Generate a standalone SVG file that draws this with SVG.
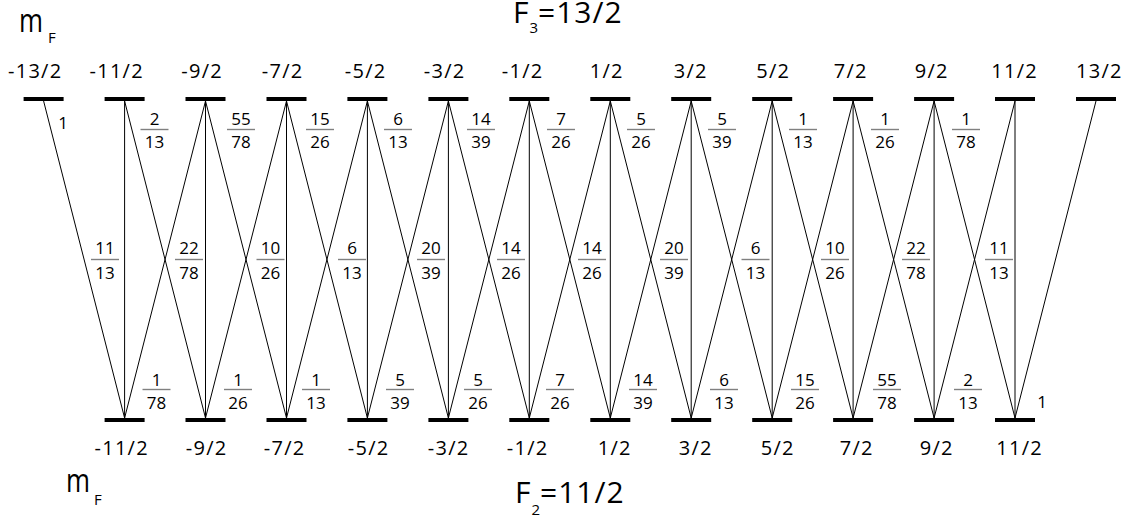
<svg xmlns="http://www.w3.org/2000/svg" width="1128" height="520" viewBox="0 0 1128 520">
<style>
  text { font-family: "Open Sans", "Liberation Sans", sans-serif; fill: #000; }
  .lvl { font-size: 20px; letter-spacing: 1.3px; text-anchor: middle; }
  .bar { fill: #000; }
  .fr { font-size: 17px; text-anchor: middle; }
  .one { font-size: 17px; text-anchor: middle; }
  .fl { stroke: #808080; stroke-width: 1.4; }
  .big { font-size: 30px; letter-spacing: 1px; }
  .mf { font-size: 32px; }
  .sub { font-size: 15px; letter-spacing: 0; }
  #connectors line { stroke: #000; stroke-width: 1; }
</style>
<rect width="1128" height="520" fill="#fff"/>

<!-- titles -->
<g id="mF-top"><text class="mf" x="19" y="32" textLength="24" lengthAdjust="spacingAndGlyphs">m</text><text class="sub" x="48" y="43">F</text></g>
<g id="mF-bottom"><text class="mf" x="66" y="492" textLength="24" lengthAdjust="spacingAndGlyphs">m</text><text class="sub" x="94" y="505">F</text></g>
<text id="F3" class="big" x="513" y="23">F<tspan class="sub" dy="10">3</tspan><tspan dy="-10">=13/2</tspan></text>
<text id="F2" class="big" x="515" y="503">F<tspan class="sub" dy="12">2</tspan><tspan dy="-12">=11/2</tspan></text>

<!-- connectors -->
<g id="connectors">
  <line x1="43.6" y1="101" x2="124.6" y2="418"/>
  <line x1="124.6" y1="101" x2="124.6" y2="418"/>
  <line x1="124.6" y1="101" x2="205.5" y2="418"/>
  <line x1="205.5" y1="101" x2="124.6" y2="418"/>
  <line x1="205.5" y1="101" x2="205.5" y2="418"/>
  <line x1="205.5" y1="101" x2="286.5" y2="418"/>
  <line x1="286.5" y1="101" x2="205.5" y2="418"/>
  <line x1="286.5" y1="101" x2="286.5" y2="418"/>
  <line x1="286.5" y1="101" x2="367.4" y2="418"/>
  <line x1="367.4" y1="101" x2="286.5" y2="418"/>
  <line x1="367.4" y1="101" x2="367.4" y2="418"/>
  <line x1="367.4" y1="101" x2="448.4" y2="418"/>
  <line x1="448.4" y1="101" x2="367.4" y2="418"/>
  <line x1="448.4" y1="101" x2="448.4" y2="418"/>
  <line x1="448.4" y1="101" x2="529.3" y2="418"/>
  <line x1="529.3" y1="101" x2="448.4" y2="418"/>
  <line x1="529.3" y1="101" x2="529.3" y2="418"/>
  <line x1="529.3" y1="101" x2="610.3" y2="418"/>
  <line x1="610.3" y1="101" x2="529.3" y2="418"/>
  <line x1="610.3" y1="101" x2="610.3" y2="418"/>
  <line x1="610.3" y1="101" x2="691.2" y2="418"/>
  <line x1="691.2" y1="101" x2="610.3" y2="418"/>
  <line x1="691.2" y1="101" x2="691.2" y2="418"/>
  <line x1="691.2" y1="101" x2="772.2" y2="418"/>
  <line x1="772.2" y1="101" x2="691.2" y2="418"/>
  <line x1="772.2" y1="101" x2="772.2" y2="418"/>
  <line x1="772.2" y1="101" x2="853.1" y2="418"/>
  <line x1="853.1" y1="101" x2="772.2" y2="418"/>
  <line x1="853.1" y1="101" x2="853.1" y2="418"/>
  <line x1="853.1" y1="101" x2="934.1" y2="418"/>
  <line x1="934.1" y1="101" x2="853.1" y2="418"/>
  <line x1="934.1" y1="101" x2="934.1" y2="418"/>
  <line x1="934.1" y1="101" x2="1015" y2="418"/>
  <line x1="1015" y1="101" x2="934.1" y2="418"/>
  <line x1="1015" y1="101" x2="1015" y2="418"/>
  <line x1="1096" y1="101" x2="1015" y2="418"/>
</g>

<!-- upper levels F3 -->
<g id="top-m-13-2"><rect class="bar" x="23.6" y="97" width="40" height="4"/><text class="lvl" x="35.2" y="78">-13/2</text></g>
<g id="top-m-11-2"><rect class="bar" x="104.6" y="97" width="40" height="4"/><text class="lvl" x="116.7" y="78">-11/2</text></g>
<g id="top-m-9-2"><rect class="bar" x="185.5" y="97" width="40" height="4"/><text class="lvl" x="202.2" y="78">-9/2</text></g>
<g id="top-m-7-2"><rect class="bar" x="266.5" y="97" width="40" height="4"/><text class="lvl" x="282.7" y="78">-7/2</text></g>
<g id="top-m-5-2"><rect class="bar" x="347.4" y="97" width="40" height="4"/><text class="lvl" x="365.7" y="78">-5/2</text></g>
<g id="top-m-3-2"><rect class="bar" x="428.4" y="97" width="40" height="4"/><text class="lvl" x="444.7" y="78">-3/2</text></g>
<g id="top-m-1-2"><rect class="bar" x="509.3" y="97" width="40" height="4"/><text class="lvl" x="522.7" y="78">-1/2</text></g>
<g id="top-m1-2"><rect class="bar" x="590.3" y="97" width="40" height="4"/><text class="lvl" x="606.7" y="78">1/2</text></g>
<g id="top-m3-2"><rect class="bar" x="671.2" y="97" width="40" height="4"/><text class="lvl" x="690.7" y="78">3/2</text></g>
<g id="top-m5-2"><rect class="bar" x="752.2" y="97" width="40" height="4"/><text class="lvl" x="773.2" y="78">5/2</text></g>
<g id="top-m7-2"><rect class="bar" x="833.1" y="97" width="40" height="4"/><text class="lvl" x="850.7" y="78">7/2</text></g>
<g id="top-m9-2"><rect class="bar" x="914.1" y="97" width="40" height="4"/><text class="lvl" x="931.7" y="78">9/2</text></g>
<g id="top-m11-2"><rect class="bar" x="995" y="97" width="40" height="4"/><text class="lvl" x="1014.7" y="78">11/2</text></g>
<g id="top-m13-2"><rect class="bar" x="1076" y="97" width="40" height="4"/><text class="lvl" x="1099.4" y="78">13/2</text></g>

<!-- lower levels F2 -->
<g id="bot-m-11-2"><rect class="bar" x="104.6" y="418" width="40" height="4"/><text class="lvl" x="121.7" y="455">-11/2</text></g>
<g id="bot-m-9-2"><rect class="bar" x="185.5" y="418" width="40" height="4"/><text class="lvl" x="206.7" y="455">-9/2</text></g>
<g id="bot-m-7-2"><rect class="bar" x="266.5" y="418" width="40" height="4"/><text class="lvl" x="284.7" y="455">-7/2</text></g>
<g id="bot-m-5-2"><rect class="bar" x="347.4" y="418" width="40" height="4"/><text class="lvl" x="368.7" y="455">-5/2</text></g>
<g id="bot-m-3-2"><rect class="bar" x="428.4" y="418" width="40" height="4"/><text class="lvl" x="448.7" y="455">-3/2</text></g>
<g id="bot-m-1-2"><rect class="bar" x="509.3" y="418" width="40" height="4"/><text class="lvl" x="527.7" y="455">-1/2</text></g>
<g id="bot-m1-2"><rect class="bar" x="590.3" y="418" width="40" height="4"/><text class="lvl" x="614.7" y="455">1/2</text></g>
<g id="bot-m3-2"><rect class="bar" x="671.2" y="418" width="40" height="4"/><text class="lvl" x="695.7" y="455">3/2</text></g>
<g id="bot-m5-2"><rect class="bar" x="752.2" y="418" width="40" height="4"/><text class="lvl" x="777.7" y="455">5/2</text></g>
<g id="bot-m7-2"><rect class="bar" x="833.1" y="418" width="40" height="4"/><text class="lvl" x="856.7" y="455">7/2</text></g>
<g id="bot-m9-2"><rect class="bar" x="914.1" y="418" width="40" height="4"/><text class="lvl" x="936.7" y="455">9/2</text></g>
<g id="bot-m11-2"><rect class="bar" x="995" y="418" width="40" height="4"/><text class="lvl" x="1019.7" y="455">11/2</text></g>

<!-- upper fractions -->
<g id="top-fractions">
  <text class="one" x="63" y="129">1</text>
  <g transform="translate(154.5,129.5)"><text class="fr" y="-5">2</text><line class="fl" x1="-14" x2="14"/><text class="fr" y="18.5">13</text></g>
  <g transform="translate(241,129.5)"><text class="fr" y="-5">55</text><line class="fl" x1="-14" x2="14"/><text class="fr" y="18.5">78</text></g>
  <g transform="translate(320,129.5)"><text class="fr" y="-5">15</text><line class="fl" x1="-14" x2="14"/><text class="fr" y="18.5">26</text></g>
  <g transform="translate(398,129.5)"><text class="fr" y="-5">6</text><line class="fl" x1="-14" x2="14"/><text class="fr" y="18.5">13</text></g>
  <g transform="translate(481,129.5)"><text class="fr" y="-5">14</text><line class="fl" x1="-14" x2="14"/><text class="fr" y="18.5">39</text></g>
  <g transform="translate(561,129.5)"><text class="fr" y="-5">7</text><line class="fl" x1="-14" x2="14"/><text class="fr" y="18.5">26</text></g>
  <g transform="translate(641,129.5)"><text class="fr" y="-5">5</text><line class="fl" x1="-14" x2="14"/><text class="fr" y="18.5">26</text></g>
  <g transform="translate(722,129.5)"><text class="fr" y="-5">5</text><line class="fl" x1="-14" x2="14"/><text class="fr" y="18.5">39</text></g>
  <g transform="translate(803,129.5)"><text class="fr" y="-5">1</text><line class="fl" x1="-14" x2="14"/><text class="fr" y="18.5">13</text></g>
  <g transform="translate(885,129.5)"><text class="fr" y="-5">1</text><line class="fl" x1="-14" x2="14"/><text class="fr" y="18.5">26</text></g>
  <g transform="translate(966,129.5)"><text class="fr" y="-5">1</text><line class="fl" x1="-14" x2="14"/><text class="fr" y="18.5">78</text></g>
</g>

<!-- middle fractions -->
<g id="mid-fractions">
  <g transform="translate(105,259.5)"><text class="fr" y="-6">11</text><line class="fl" x1="-14" x2="14"/><text class="fr" y="19">13</text></g>
  <g transform="translate(189,259.5)"><text class="fr" y="-6">22</text><line class="fl" x1="-14" x2="14"/><text class="fr" y="19">78</text></g>
  <g transform="translate(270.5,259.5)"><text class="fr" y="-6">10</text><line class="fl" x1="-14" x2="14"/><text class="fr" y="19">26</text></g>
  <g transform="translate(352,259.5)"><text class="fr" y="-6">6</text><line class="fl" x1="-14" x2="14"/><text class="fr" y="19">13</text></g>
  <g transform="translate(431,259.5)"><text class="fr" y="-6">20</text><line class="fl" x1="-14" x2="14"/><text class="fr" y="19">39</text></g>
  <g transform="translate(511,259.5)"><text class="fr" y="-6">14</text><line class="fl" x1="-14" x2="14"/><text class="fr" y="19">26</text></g>
  <g transform="translate(592,259.5)"><text class="fr" y="-6">14</text><line class="fl" x1="-14" x2="14"/><text class="fr" y="19">26</text></g>
  <g transform="translate(674,259.5)"><text class="fr" y="-6">20</text><line class="fl" x1="-14" x2="14"/><text class="fr" y="19">39</text></g>
  <g transform="translate(755.5,259.5)"><text class="fr" y="-6">6</text><line class="fl" x1="-14" x2="14"/><text class="fr" y="19">13</text></g>
  <g transform="translate(835,259.5)"><text class="fr" y="-6">10</text><line class="fl" x1="-14" x2="14"/><text class="fr" y="19">26</text></g>
  <g transform="translate(916,259.5)"><text class="fr" y="-6">22</text><line class="fl" x1="-14" x2="14"/><text class="fr" y="19">78</text></g>
  <g transform="translate(999,259.5)"><text class="fr" y="-6">11</text><line class="fl" x1="-14" x2="14"/><text class="fr" y="19">13</text></g>
</g>

<!-- lower fractions -->
<g id="bottom-fractions">
  <g transform="translate(156.5,389.5)"><text class="fr" y="-4">1</text><line class="fl" x1="-14" x2="14"/><text class="fr" y="19">78</text></g>
  <g transform="translate(238,389.5)"><text class="fr" y="-4">1</text><line class="fl" x1="-14" x2="14"/><text class="fr" y="19">26</text></g>
  <g transform="translate(316,389.5)"><text class="fr" y="-4">1</text><line class="fl" x1="-14" x2="14"/><text class="fr" y="19">13</text></g>
  <g transform="translate(400,389.5)"><text class="fr" y="-4">5</text><line class="fl" x1="-14" x2="14"/><text class="fr" y="19">39</text></g>
  <g transform="translate(478,389.5)"><text class="fr" y="-4">5</text><line class="fl" x1="-14" x2="14"/><text class="fr" y="19">26</text></g>
  <g transform="translate(560,389.5)"><text class="fr" y="-4">7</text><line class="fl" x1="-14" x2="14"/><text class="fr" y="19">26</text></g>
  <g transform="translate(643,389.5)"><text class="fr" y="-4">14</text><line class="fl" x1="-14" x2="14"/><text class="fr" y="19">39</text></g>
  <g transform="translate(724,389.5)"><text class="fr" y="-4">6</text><line class="fl" x1="-14" x2="14"/><text class="fr" y="19">13</text></g>
  <g transform="translate(805,389.5)"><text class="fr" y="-4">15</text><line class="fl" x1="-14" x2="14"/><text class="fr" y="19">26</text></g>
  <g transform="translate(887,389.5)"><text class="fr" y="-4">55</text><line class="fl" x1="-14" x2="14"/><text class="fr" y="19">78</text></g>
  <g transform="translate(968,389.5)"><text class="fr" y="-4">2</text><line class="fl" x1="-14" x2="14"/><text class="fr" y="19">13</text></g>
  <text class="one" x="1042" y="407.5">1</text>
</g>
</svg>
